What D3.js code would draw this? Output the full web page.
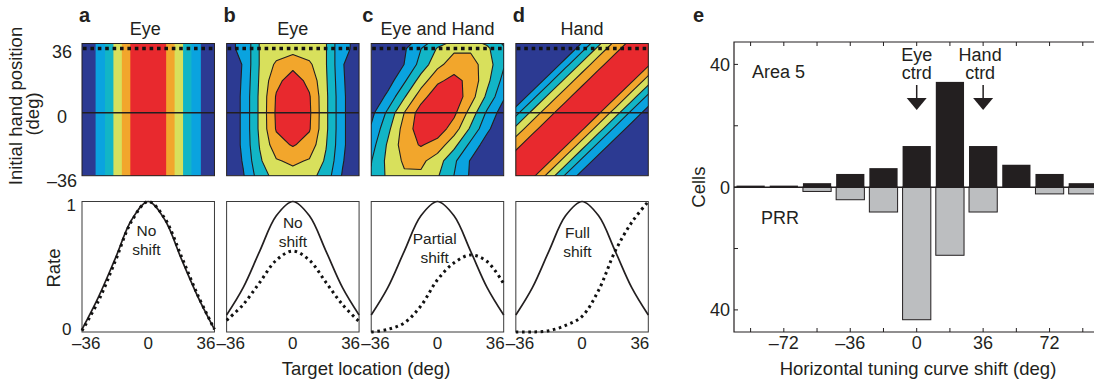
<!DOCTYPE html>
<html>
<head>
<meta charset="utf-8">
<script src="https://cdn.jsdelivr.net/npm/d3@7"></script>
<style>
  body { margin: 0; background: #fff; }
  svg { display: block; }
  text { font-family: "Liberation Sans", Arial, Helvetica, sans-serif; fill: #231f20; }
</style>
</head>
<body>
<svg id="fig" width="1094" height="379"></svg>
<script>
// ---- data ----
const panelIds = ["a", "b", "c", "d"];
const panelTitles = ["Eye", "Eye", "Eye and Hand", "Hand"];
const shiftText = [["No", "shift"], ["No", "shift"], ["Partial", "shift"], ["Full", "shift"]];

// contour grid: columns = target location, rows = initial hand position
const targetDeg = [-36, -27, -18, -9, 0, 9, 18, 27, 36];
const handDeg = [-36, -27, -18, -9, 0, 9, 18, 27, 36, 45];
const levels = [0.286, 0.429, 0.571, 0.714, 0.857];
const levelColors = ["#2c3a92", "#0aa3df", "#12b5c6", "#d8e05c", "#f2a62c", "#e8292e"];

const gridA = [
  [0.13, 0.32, 0.60, 0.88, 1.00, 0.88, 0.60, 0.32, 0.13],
  [0.13, 0.32, 0.60, 0.88, 1.00, 0.88, 0.60, 0.32, 0.13],
  [0.13, 0.32, 0.60, 0.88, 1.00, 0.88, 0.60, 0.32, 0.13],
  [0.13, 0.32, 0.60, 0.88, 1.00, 0.88, 0.60, 0.32, 0.13],
  [0.13, 0.32, 0.60, 0.88, 1.00, 0.88, 0.60, 0.32, 0.13],
  [0.13, 0.32, 0.60, 0.88, 1.00, 0.88, 0.60, 0.32, 0.13],
  [0.13, 0.32, 0.60, 0.88, 1.00, 0.88, 0.60, 0.32, 0.13],
  [0.13, 0.32, 0.60, 0.88, 1.00, 0.88, 0.60, 0.32, 0.13],
  [0.13, 0.32, 0.60, 0.88, 1.00, 0.88, 0.60, 0.32, 0.13],
  [0.13, 0.32, 0.60, 0.88, 1.00, 0.88, 0.60, 0.32, 0.13]
];
const gridB = [
  [0.10, 0.27, 0.50, 0.62, 0.66, 0.62, 0.50, 0.27, 0.10],
  [0.12, 0.30, 0.55, 0.70, 0.74, 0.70, 0.55, 0.30, 0.12],
  [0.13, 0.32, 0.58, 0.80, 0.87, 0.80, 0.58, 0.32, 0.13],
  [0.13, 0.32, 0.60, 0.87, 0.97, 0.87, 0.60, 0.32, 0.13],
  [0.13, 0.32, 0.60, 0.88, 1.00, 0.88, 0.60, 0.32, 0.13],
  [0.13, 0.32, 0.60, 0.87, 0.98, 0.87, 0.60, 0.32, 0.13],
  [0.13, 0.31, 0.59, 0.82, 0.92, 0.82, 0.59, 0.31, 0.13],
  [0.13, 0.30, 0.58, 0.74, 0.82, 0.74, 0.58, 0.30, 0.13],
  [0.27, 0.30, 0.58, 0.63, 0.65, 0.63, 0.58, 0.30, 0.27],
  [0.27, 0.30, 0.58, 0.63, 0.65, 0.63, 0.58, 0.30, 0.27]
];
const gridC = [
  [0.443, 0.597, 0.690, 0.684, 0.582, 0.425, 0.266, 0.143, 0.066],
  [0.423, 0.609, 0.737, 0.749, 0.638, 0.457, 0.274, 0.138, 0.058],
  [0.369, 0.590, 0.786, 0.870, 0.800, 0.615, 0.392, 0.208, 0.092],
  [0.305, 0.533, 0.774, 0.935, 0.941, 0.788, 0.549, 0.318, 0.154],
  [0.243, 0.458, 0.716, 0.929, 0.999, 0.891, 0.659, 0.404, 0.206],
  [0.155, 0.322, 0.555, 0.796, 0.951, 0.945, 0.782, 0.538, 0.308],
  [0.095, 0.216, 0.406, 0.636, 0.829, 0.900, 0.813, 0.610, 0.382],
  [0.061, 0.146, 0.289, 0.481, 0.672, 0.788, 0.776, 0.641, 0.445],
  [0.066, 0.143, 0.266, 0.425, 0.582, 0.684, 0.690, 0.597, 0.443],
  [0.035, 0.080, 0.157, 0.264, 0.380, 0.470, 0.500, 0.455, 0.355]
];
const gridD = [
  [1.00, 0.88, 0.64, 0.39, 0.22, 0.10, 0.05, 0.02, 0.01],
  [0.93, 1.00, 0.88, 0.64, 0.39, 0.22, 0.10, 0.05, 0.02],
  [0.82, 0.93, 1.00, 0.88, 0.64, 0.39, 0.22, 0.10, 0.05],
  [0.61, 0.82, 0.93, 1.00, 0.88, 0.64, 0.39, 0.22, 0.10],
  [0.38, 0.61, 0.82, 0.93, 1.00, 0.88, 0.64, 0.39, 0.22],
  [0.12, 0.38, 0.61, 0.82, 0.93, 1.00, 0.88, 0.64, 0.39],
  [0.05, 0.12, 0.38, 0.61, 0.82, 0.93, 1.00, 0.88, 0.64],
  [0.02, 0.05, 0.12, 0.38, 0.61, 0.82, 0.93, 1.00, 0.88],
  [0.01, 0.02, 0.05, 0.12, 0.38, 0.61, 0.82, 0.93, 1.00],
  [0.01, 0.01, 0.02, 0.05, 0.12, 0.38, 0.61, 0.82, 0.93]
];
const grids = [gridA, gridB, gridC, gridD];

// tuning curves (rate vs target location), solid = hand at 0, dotted = hand at 36
const rateSolid = [
  [0.02, 0.27, 0.56, 0.86, 1.00, 0.86, 0.56, 0.27, 0.02],
  [0.13, 0.34, 0.62, 0.89, 1.00, 0.89, 0.62, 0.34, 0.13],
  [0.13, 0.34, 0.62, 0.89, 1.00, 0.89, 0.62, 0.34, 0.13],
  [0.13, 0.34, 0.62, 0.89, 1.00, 0.89, 0.62, 0.34, 0.13]
];
const rateDotted = [
  [0.01, 0.24, 0.54, 0.85, 1.00, 0.87, 0.58, 0.28, 0.02],
  [0.09, 0.21, 0.38, 0.55, 0.62, 0.55, 0.38, 0.21, 0.08],
  [0.00, 0.02, 0.07, 0.20, 0.40, 0.53, 0.59, 0.54, 0.37],
  [0.00, 0.00, 0.01, 0.05, 0.12, 0.32, 0.62, 0.84, 1.00]
];
const handTicks = [-36, 0, 36];
const targetTicks = [-36, 0, 36];
const solidHand = 0, dottedHand = 36;

// panel e histogram
const shiftBins = [-90, -72, -54, -36, -18, 0, 18, 36, 54, 72, 90];
const area5Cells = [0.5, 0.5, 1.3, 4.3, 6.2, 13.4, 34.3, 13.4, 7.3, 4.3, 1.3];
const prrCells = [0, 0, 1.4, 4.1, 8.1, 43.2, 22.2, 8.1, 0, 2.2, 2.2];
const shiftTicks = [-72, -36, 0, 36, 72];
const cellTicks = [-40, 0, 40];
const cellMinorTicks = [-40, -20, 0, 20, 40];
const markers = [{ text: ["Eye", "ctrd"], at: 0 }, { text: ["Hand", "ctrd"], at: 36 }];

const ink = "#231f20";
const fmt = d => d < 0 ? "\u2013" + (-d) : String(d);

const svg = d3.select("#fig");

// ---- panels a-d ----
const panelX = d3.scaleBand().domain(panelIds).range([82, 648.3]).paddingInner(0.084);
const mapY = d3.scaleLinear().domain([-35.3, 38.8]).range([175.7, 43.5]);
const rateY = d3.scaleLinear().domain([0, 1]).range([332, 201.5]);

const letterDx = [-3, -3, -9, -3];
const textPos = [[-1, 0.736], [0, 0.797], [-1.5, 0.674], [-2.5, 0.72]];

const contours = d3.contours()
  .size([targetDeg.length, handDeg.length])
  .thresholds(levels);

panelIds.forEach((id, i) => {
  const x0 = panelX(id);
  const w = panelX.bandwidth();
  const x = d3.scaleLinear().domain([-36, 36]).range([x0, x0 + w]);
  const g = svg.append("g");

  g.append("text")
    .attr("x", x0 + letterDx[i]).attr("y", 22)
    .style("font-size", "20px").style("font-weight", "bold")
    .text(id);
  g.append("text")
    .attr("x", x0 + w / 2 - (i === 0 ? 3 : 0)).attr("y", 35)
    .attr("text-anchor", "middle").style("font-size", "18px")
    .text(panelTitles[i]);

  // contour map
  const clipId = "clip-" + id;
  g.append("clipPath").attr("id", clipId)
    .append("rect")
    .attr("x", x0).attr("y", mapY.range()[1])
    .attr("width", w).attr("height", mapY.range()[0] - mapY.range()[1]);

  const gx = d3.scaleLinear().domain([0.5, targetDeg.length - 0.5])
    .range([x(targetDeg[0]), x(targetDeg[targetDeg.length - 1])]);
  const gy = d3.scaleLinear().domain([0.5, handDeg.length - 0.5])
    .range([mapY(handDeg[0]), mapY(handDeg[handDeg.length - 1])]);
  const proj = d3.geoTransform({
    point(px, py) { this.stream.point(gx(px), gy(py)); }
  });
  const path = d3.geoPath(proj);

  const cg = g.append("g").attr("clip-path", `url(#${clipId})`);
  cg.append("rect")
    .attr("x", x0).attr("y", mapY.range()[1])
    .attr("width", w).attr("height", mapY.range()[0] - mapY.range()[1])
    .attr("fill", levelColors[0]);
  cg.selectAll("path.band")
    .data(contours(grids[i].flat()))
    .join("path")
    .attr("class", "band")
    .attr("d", path)
    .attr("fill", (d, k) => levelColors[k + 1])
    .attr("stroke", i === 0 ? "none" : ink)
    .attr("stroke-width", 1.1)
    .attr("stroke-linejoin", "round");

  cg.append("line")
    .attr("x1", x0).attr("x2", x0 + w)
    .attr("y1", mapY(solidHand)).attr("y2", mapY(solidHand))
    .attr("stroke", ink).attr("stroke-width", 1.6);
  cg.append("line")
    .attr("x1", x0 + 1).attr("x2", x0 + w)
    .attr("y1", mapY(dottedHand)).attr("y2", mapY(dottedHand))
    .attr("stroke", "#111").attr("stroke-width", 3.4)
    .attr("stroke-dasharray", "3.6,3.8");

  g.append("rect")
    .attr("x", x0).attr("y", mapY.range()[1])
    .attr("width", w).attr("height", mapY.range()[0] - mapY.range()[1])
    .attr("fill", "none").attr("stroke", ink).attr("stroke-width", 1);

  // tuning curves
  const line = d3.line()
    .x((d, k) => x(targetDeg[k]))
    .y(d => rateY(d))
    .curve(d3.curveCatmullRom.alpha(0.5));

  g.append("rect")
    .attr("x", x0).attr("y", rateY(1))
    .attr("width", w).attr("height", rateY(0) - rateY(1))
    .attr("fill", "none").attr("stroke", "#3a3a3a").attr("stroke-width", 1);
  g.append("path")
    .attr("d", line(rateSolid[i]))
    .attr("fill", "none").attr("stroke", ink).attr("stroke-width", 1.7);
  g.append("path")
    .attr("d", line(rateDotted[i]))
    .attr("fill", "none").attr("stroke", "#111").attr("stroke-width", 3)
    .attr("stroke-dasharray", "2.6,3.6");

  const [tx, tr] = textPos[i];
  shiftText[i].forEach((s, k) => {
    g.append("text")
      .attr("x", x(tx)).attr("y", rateY(tr) + k * 19)
      .attr("text-anchor", "middle").style("font-size", "15.5px")
      .text(s);
  });

  const first = targetTicks[0], last = targetTicks[targetTicks.length - 1];
  g.selectAll("text.xt")
    .data(targetTicks)
    .join("text")
    .attr("class", "xt")
    .attr("x", d => d === first ? x(d) - 10 : d === last ? x(d) + 1 : x(d))
    .attr("y", 348.5)
    .attr("text-anchor", d => d === first ? "start" : d === last ? "end" : "middle")
    .style("font-size", "17px")
    .text(fmt);

  if (i === 0) {
    g.selectAll("text.yt")
      .data(handTicks)
      .join("text")
      .attr("class", "yt")
      .attr("x", 62).attr("y", d => mapY(d) + 10)
      .attr("text-anchor", "middle").style("font-size", "18px")
      .text(fmt);
    g.append("text").attr("x", 76).attr("y", rateY(1) + 9.5)
      .attr("text-anchor", "end").style("font-size", "17px").text("1");
    g.append("text").attr("x", 71.5).attr("y", rateY(0) + 2.5)
      .attr("text-anchor", "end").style("font-size", "17px").text("0");
  }
});

svg.append("text")
  .attr("transform", "translate(22,106) rotate(-90)")
  .attr("text-anchor", "middle").style("font-size", "18.5px")
  .text("Initial hand position");
svg.append("text")
  .attr("transform", "translate(39,114) rotate(-90)")
  .attr("text-anchor", "middle").style("font-size", "18.5px")
  .text("(deg)");
svg.append("text")
  .attr("transform", "translate(60,268) rotate(-90)")
  .attr("text-anchor", "middle").style("font-size", "18.5px")
  .text("Rate");
svg.append("text")
  .attr("x", 366).attr("y", 375)
  .attr("text-anchor", "middle").style("font-size", "18.5px")
  .text("Target location (deg)");

// ---- panel e ----
const ex = d3.scaleLinear().domain([-99, 99]).range([734, 1099.4]);
const ey = d3.scaleLinear().domain([-47.2, 47.3]).range([332, 42]);
const barW = (ex(shiftBins[1]) - ex(shiftBins[0])) * 0.85;
const ge = svg.append("g");

ge.append("text").attr("x", 693).attr("y", 22)
  .style("font-size", "20px").style("font-weight", "bold").text("e");

ge.selectAll("rect.prr")
  .data(shiftBins.map((b, k) => [b, prrCells[k]]).filter(d => d[1] > 0))
  .join("rect")
  .attr("class", "prr")
  .attr("x", d => ex(d[0]) - barW / 2)
  .attr("y", ey(0))
  .attr("width", barW)
  .attr("height", d => ey(-d[1]) - ey(0))
  .attr("fill", "#bcbec0").attr("stroke", ink).attr("stroke-width", 1);

ge.selectAll("rect.a5")
  .data(shiftBins.map((b, k) => [b, area5Cells[k]]))
  .join("rect")
  .attr("class", "a5")
  .attr("x", d => ex(d[0]) - barW / 2)
  .attr("y", d => ey(d[1]))
  .attr("width", barW)
  .attr("height", d => ey(0) - ey(d[1]))
  .attr("fill", ink);

ge.append("line")
  .attr("x1", ex.range()[0]).attr("x2", ex.range()[1])
  .attr("y1", ey(0)).attr("y2", ey(0))
  .attr("stroke", ink).attr("stroke-width", 1.5);

ge.append("path")
  .attr("d", `M${ex.range()[1]},${ey.range()[1]}H${ex.range()[0]}V${ey.range()[0]}H${ex.range()[1]}`)
  .attr("fill", "none").attr("stroke", ink).attr("stroke-width", 1.2);

ge.selectAll("path.xtick")
  .data(shiftBins)
  .join("path")
  .attr("class", "xtick")
  .attr("d", d => `M${ex(d)},${ey.range()[1]}v4M${ex(d)},${ey.range()[0]}v-4`)
  .attr("stroke", ink).attr("stroke-width", 1);
ge.selectAll("path.ytick")
  .data(cellMinorTicks)
  .join("path")
  .attr("class", "ytick")
  .attr("d", d => `M${ex.range()[0]},${ey(d)}h4`)
  .attr("stroke", ink).attr("stroke-width", 1);

ge.selectAll("text.ex")
  .data(shiftTicks)
  .join("text")
  .attr("class", "ex")
  .attr("x", d => ex(d)).attr("y", 349)
  .attr("text-anchor", "middle").style("font-size", "18px")
  .text(fmt);
ge.selectAll("text.ey")
  .data(cellTicks)
  .join("text")
  .attr("class", "ey")
  .attr("x", 730).attr("y", d => ey(d) + 6.5)
  .attr("text-anchor", "end").style("font-size", "18px")
  .text(d => String(Math.abs(d)));

ge.append("text")
  .attr("transform", `translate(705,${ey(0)}) rotate(-90)`)
  .attr("text-anchor", "middle").style("font-size", "18.5px")
  .text("Cells");
ge.append("text")
  .attr("x", 918).attr("y", 375)
  .attr("text-anchor", "middle").style("font-size", "18.5px")
  .text("Horizontal tuning curve shift (deg)");
ge.append("text").attr("x", 752).attr("y", 78).style("font-size", "18px").text("Area 5");
ge.append("text").attr("x", 761).attr("y", 224).style("font-size", "18px").text("PRR");

markers.forEach(m => {
  const mx = ex(m.at);
  m.text.forEach((s, k) => {
    ge.append("text")
      .attr("x", mx - (m.at === 0 ? 0 : 3)).attr("y", 61 + k * 18)
      .attr("text-anchor", "middle").style("font-size", "18px")
      .text(s);
  });
  ge.append("line")
    .attr("x1", mx).attr("x2", mx).attr("y1", 85).attr("y2", 99)
    .attr("stroke", ink).attr("stroke-width", 1.5);
  ge.append("path")
    .attr("d", `M${mx - 10},98L${mx + 10},98L${mx},110Z`)
    .attr("fill", ink);
});
</script>
</body>
</html>
